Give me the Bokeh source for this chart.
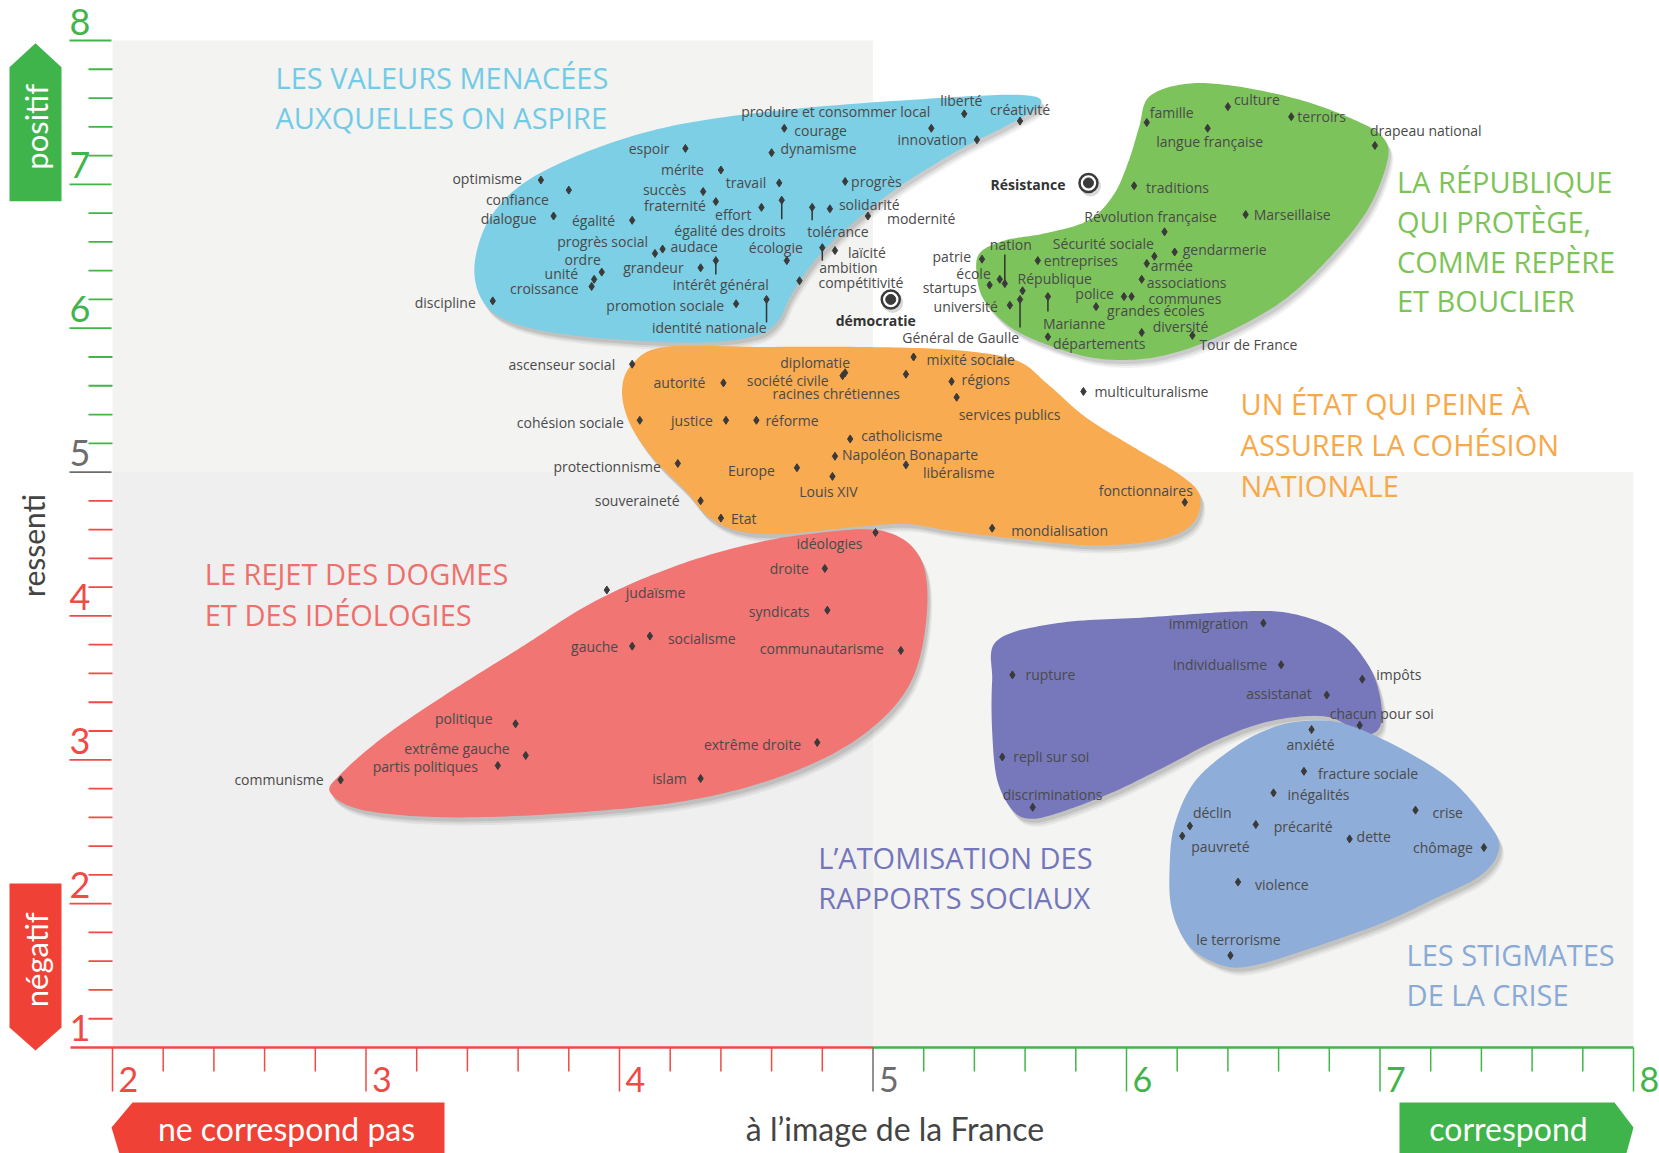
import numpy as np
from bokeh.plotting import figure
from bokeh.models import Range1d, ColumnDataSource
from bokeh.core.properties import value
from bokeh.embed import file_html
from bokeh.resources import INLINE

# ------------------------------------------------------------------ DATA
blue_names = ["optimisme", "confiance", "dialogue", "égalité", "espoir", "mérite", "succès",
              "fraternité", "travail", "effort", "égalité des droits", "progrès", "solidarité",
              "tolérance", "modernité", "produire et consommer local", "courage", "dynamisme",
              "liberté", "créativité", "innovation", "progrès social", "audace", "ordre", "unité",
              "croissance", "grandeur", "intérêt général", "écologie", "laïcité", "ambition",
              "compétitivité", "discipline", "promotion sociale", "identité nationale"]
blue_x = [3.69, 3.80, 3.74, 4.05, 4.26, 4.40, 4.33, 4.38, 4.63, 4.56, 4.64, 4.89, 4.83, 4.76, 4.98,
          5.23, 4.65, 4.60, 5.36, 5.58, 5.41, 4.14, 4.17, 3.93, 3.90, 3.89, 4.32, 4.38, 4.66, 4.85,
          4.80, 4.71, 3.50, 4.46, 4.58]
blue_y = [7.03, 6.96, 6.78, 6.75, 7.25, 7.10, 6.95, 6.88, 7.01, 6.84, 6.89, 7.02, 6.83, 6.84, 6.78,
          7.39, 7.39, 7.22, 7.49, 7.44, 7.31, 6.52, 6.55, 6.39, 6.34, 6.29, 6.42, 6.47, 6.47, 6.54,
          6.56, 6.33, 6.19, 6.17, 6.20]

key_names = ["démocratie", "Résistance"]
key_x = [5.07, 5.85]
key_y = [6.20, 7.01]

green_names = ["famille", "culture", "terroirs", "langue française", "drapeau national", "traditions",
               "Révolution française", "Marseillaise", "Sécurité sociale", "gendarmerie", "nation",
               "patrie", "entreprises", "armée", "école", "République", "startups", "associations",
               "police", "communes", "université", "Général de Gaulle", "Marianne", "grandes écoles",
               "diversité", "départements", "Tour de France"]
green_x = [6.08, 6.40, 6.65, 6.32, 6.98, 6.03, 6.15, 6.47, 6.11, 6.19, 5.52, 5.43, 5.65, 6.08, 5.50,
           5.59, 5.46, 6.06, 5.99, 6.02, 5.54, 5.58, 5.69, 5.88, 6.06, 5.69, 6.26]
green_y = [7.43, 7.54, 7.47, 7.39, 7.27, 6.99, 6.67, 6.79, 6.50, 6.53, 6.31, 6.48, 6.47, 6.45, 6.34,
           6.26, 6.30, 6.34, 6.22, 6.22, 6.16, 6.20, 6.22, 6.15, 5.97, 5.94, 5.95]

orange_names = ["ascenseur social", "diplomatie", "société civile", "mixité sociale", "autorité",
                "racines chrétiennes", "régions", "services publics", "multiculturalisme",
                "cohésion sociale", "justice", "réforme", "catholicisme", "Napoléon Bonaparte",
                "protectionnisme", "Europe", "libéralisme", "Louis XIV", "fonctionnaires",
                "souveraineté", "Etat", "mondialisation"]
orange_x = [4.05, 4.89, 4.88, 5.16, 4.41, 5.13, 5.31, 5.33, 5.83, 4.08, 4.42, 4.54, 4.91, 4.85, 4.23,
            4.70, 5.13, 4.84, 6.23, 4.32, 4.40, 5.47]
orange_y = [5.75, 5.69, 5.67, 5.80, 5.62, 5.68, 5.63, 5.52, 5.56, 5.36, 5.36, 5.36, 5.23, 5.11, 5.06,
            5.03, 5.05, 4.97, 4.79, 4.80, 4.68, 4.61]

red_names = ["idéologies", "droite", "judaïsme", "syndicats", "gauche", "socialisme",
             "communautarisme", "politique", "extrême gauche", "partis politiques", "communisme",
             "extrême droite", "islam"]
red_x = [5.01, 4.81, 3.95, 4.82, 4.05, 4.12, 5.11, 3.59, 3.63, 3.52, 2.90, 4.78, 4.32]
red_y = [4.58, 4.33, 4.18, 4.04, 3.79, 3.86, 3.76, 3.25, 3.03, 2.96, 2.86, 3.12, 2.87]

purple_names = ["immigration", "rupture", "individualisme", "impôts", "assistanat",
                "chacun pour soi", "repli sur soi", "discriminations"]
purple_x = [6.54, 5.55, 6.61, 6.93, 6.79, 6.92, 5.51, 5.63]
purple_y = [3.95, 3.59, 3.66, 3.56, 3.45, 3.24, 3.02, 2.67]

crisis_names = ["anxiété", "fracture sociale", "inégalités", "déclin", "pauvreté", "précarité",
                "dette", "crise", "chômage", "violence", "le terrorisme"]
crisis_x = [6.73, 6.70, 6.58, 6.25, 6.22, 6.51, 6.88, 7.14, 7.41, 6.44, 6.41]
crisis_y = [3.21, 2.92, 2.77, 2.54, 2.47, 2.55, 2.45, 2.65, 2.39, 2.15, 1.64]

# region outlines (data units)
blue_shape_x = [3.43, 3.51, 3.71, 4.12, 4.61, 5.26, 5.60, 5.66, 5.54, 5.34, 5.10, 4.90, 4.77, 4.68,
                4.62, 4.52, 4.28, 3.87, 3.59, 3.46]
blue_shape_y = [6.47, 6.82, 7.10, 7.37, 7.51, 7.60, 7.62, 7.55, 7.42, 7.24, 6.98, 6.70, 6.47, 6.24,
                6.04, 5.94, 5.90, 5.94, 6.03, 6.19]
green_shape_x = [6.24, 6.09, 6.05, 6.01, 5.95, 5.85, 5.68, 5.52, 5.42, 5.41, 5.44, 5.54, 5.68, 5.85,
                 6.01, 6.17, 6.36, 6.60, 6.79, 6.95, 7.03, 7.01, 6.91, 6.70, 6.44]
green_shape_y = [7.70, 7.61, 7.40, 7.17, 6.93, 6.75, 6.66, 6.61, 6.52, 6.36, 6.19, 6.01, 5.89, 5.80,
                 5.78, 5.82, 5.94, 6.17, 6.47, 6.82, 7.17, 7.33, 7.44, 7.58, 7.68]
orange_shape_x = [4.18, 4.05, 4.01, 4.04, 4.13, 4.26, 4.35, 4.47, 4.65, 4.94, 5.13, 5.31, 5.60, 5.88,
                  6.13, 6.26, 6.29, 6.22, 6.05, 5.84, 5.69, 5.56, 5.31, 4.94, 4.56]
orange_shape_y = [5.87, 5.75, 5.57, 5.34, 5.10, 4.87, 4.69, 4.59, 4.57, 4.62, 4.64, 4.59, 4.53, 4.49,
                  4.53, 4.64, 4.83, 4.97, 5.15, 5.38, 5.61, 5.78, 5.85, 5.87, 5.87]
red_shape_x = [4.75, 5.04, 5.19, 5.21, 5.14, 4.95, 4.66, 4.28, 3.80, 3.32, 2.99, 2.86, 2.90, 3.07,
               3.32, 3.61, 3.89, 4.18, 4.47]
red_shape_y = [4.57, 4.59, 4.39, 3.97, 3.51, 3.16, 2.90, 2.72, 2.63, 2.60, 2.65, 2.77, 2.90, 3.16,
               3.46, 3.78, 4.09, 4.32, 4.48]
purple_shape_x = [5.49, 5.73, 6.08, 6.43, 6.64, 6.83, 6.95, 7.00, 7.00, 6.93, 6.79, 6.57, 6.36, 6.15,
                  5.94, 5.73, 5.62, 5.55, 5.49, 5.47, 5.47]
purple_shape_y = [3.83, 3.95, 3.99, 4.03, 4.02, 3.90, 3.67, 3.44, 3.23, 3.18, 3.30, 3.27, 3.14, 2.95,
                  2.77, 2.63, 2.59, 2.65, 2.86, 3.20, 3.55]
crisis_shape_x = [6.71, 6.86, 7.07, 7.28, 7.42, 7.47, 7.40, 7.21, 7.00, 6.71, 6.50, 6.38, 6.25, 6.18,
                  6.17, 6.19, 6.27, 6.42, 6.57]
crisis_shape_y = [3.27, 3.25, 3.09, 2.86, 2.58, 2.39, 2.20, 2.03, 1.86, 1.68, 1.57, 1.57, 1.70, 1.95,
                  2.25, 2.55, 2.85, 3.08, 3.22]

x_ticks = [2, 3, 4, 5, 6, 7, 8]
y_ticks = [1, 2, 3, 4, 5, 6, 7, 8]

# ------------------------------------------------------------------ LAYOUT / STYLE
PX = 253.5      # px per x unit
PY = 143.857    # px per y unit
W, H = 1659, 1153
X0 = 2 - 112 / PX
Y1 = 8 + 40 / PY

LAYOUT = {
    # blue
    "optimisme": (-19, -2, "r"), "confiance": (-20, 9, "r"), "dialogue": (-17, 2, "r"),
    "égalité": (-17, 0, "r"), "espoir": (-16, 0, "r"), "mérite": (-17, 0, "r"),
    "succès": (-17, -2, "r"), "fraternité": (-10, 4, "r"), "travail": (-13, 0, "r"),
    "effort": (-10, 7, "r"), "égalité des droits": (4, 30, "r"), "progrès": (6, 0, "l"),
    "solidarité": (9, -4, "l"), "tolérance": (-5, 24, "l"), "modernité": (19, 2, "l"),
    "produire et consommer local": (-1, -17, "r"), "courage": (10, 2, "l"),
    "dynamisme": (9, -4, "l"), "liberté": (-3, -13, "c"), "créativité": (0, -12, "c"),
    "innovation": (-10, 0, "r"), "progrès social": (-7, -12, "r"), "audace": (8, -3, "l"),
    "ordre": (-1, -13, "r"), "unité": (-16, -6, "r"), "croissance": (-13, 2, "r"),
    "grandeur": (-17, 0, "r"), "intérêt général": (5, 24, "c"), "écologie": (-11, -13, "c"),
    "laïcité": (13, 2, "l"), "ambition": (-3, 20, "l"), "compétitivité": (19, 2, "l"),
    "discipline": (-17, 2, "r"), "promotion sociale": (-12, 2, "r"),
    "identité nationale": (0, 28, "r"),
    # key
    "démocratie": (-15, 21, "c"), "Résistance": (-23, 2, "r"),
    # green
    "famille": (3, -10, "l"), "culture": (6, -7, "l"), "terroirs": (6, 0, "l"),
    "langue française": (2, 13, "c"), "drapeau national": (-5, -15, "l"),
    "traditions": (12, 2, "l"), "Révolution française": (-14, -15, "c"),
    "Marseillaise": (8, 0, "l"), "Sécurité sociale": (-51, -13, "c"),
    "gendarmerie": (8, -2, "l"), "nation": (6, -39, "c"), "patrie": (-11, -3, "r"),
    "entreprises": (6, 0, "l"), "armée": (4, 2, "l"), "école": (-9, -6, "r"),
    "République": (-5, -12, "l"), "startups": (-13, 2, "r"), "associations": (5, 3, "l"),
    "police": (-10, -3, "r"), "communes": (17, 2, "l"), "université": (-12, 1, "r"),
    "Général de Gaulle": (-1, 38, "r"), "Marianne": (-5, 27, "l"),
    "grandes écoles": (11, 4, "l"), "diversité": (11, -6, "l"), "départements": (5, 7, "l"),
    "Tour de France": (7, 9, "l"),
    # orange
    "ascenseur social": (-17, 0, "r"), "diplomatie": (-30, -10, "c"),
    "société civile": (-14, 5, "r"), "mixité sociale": (13, 3, "l"), "autorité": (-18, 0, "r"),
    "racines chrétiennes": (-6, 19, "r"), "régions": (10, -2, "l"),
    "services publics": (2, 17, "l"), "multiculturalisme": (11, 0, "l"),
    "cohésion sociale": (-16, 2, "r"), "justice": (-13, 0, "r"), "réforme": (9, 0, "l"),
    "catholicisme": (11, -3, "l"), "Napoléon Bonaparte": (7, -2, "l"),
    "protectionnisme": (-17, 3, "r"), "Europe": (-22, 3, "r"), "libéralisme": (17, 8, "l"),
    "Louis XIV": (-4, 15, "c"), "fonctionnaires": (8, -12, "r"),
    "souveraineté": (-21, 0, "r"), "Etat": (10, 0, "l"), "mondialisation": (19, 2, "l"),
    # red
    "idéologies": (-13, 11, "r"), "droite": (-16, 0, "r"), "judaïsme": (19, 2, "l"),
    "syndicats": (-18, 1, "r"), "gauche": (-14, 0, "r"), "socialisme": (18, 2, "l"),
    "communautarisme": (-17, -2, "r"), "politique": (-23, -5, "r"),
    "extrême gauche": (-16, -7, "r"), "partis politiques": (-20, 1, "r"),
    "communisme": (-17, 0, "r"), "extrême droite": (-16, 2, "r"), "islam": (-14, 0, "r"),
    # purple
    "immigration": (-15, 0, "r"), "rupture": (13, 0, "l"), "individualisme": (-14, 0, "r"),
    "impôts": (14, -5, "l"), "assistanat": (-15, -2, "r"), "chacun pour soi": (-30, -12, "l"),
    "repli sur soi": (11, 0, "l"), "discriminations": (-30, -13, "l"),
    # crisis
    "anxiété": (-1, 15, "c"), "fracture sociale": (14, 2, "l"), "inégalités": (14, 2, "l"),
    "déclin": (3, -13, "l"), "pauvreté": (9, 10, "l"), "précarité": (18, 2, "l"),
    "dette": (7, -2, "l"), "crise": (17, 2, "l"), "chômage": (-11, 0, "r"),
    "violence": (17, 2, "l"), "le terrorisme": (8, -16, "c"),
}
# vertical leader lines (px, positive = downward from the point)
LEADERS = {"égalité des droits": 19, "tolérance": 13, "intérêt général": 14, "ambition": 13,
           "identité nationale": 23, "Général de Gaulle": 28, "Marianne": 15, "nation": -29}

TITLES = [
    (["LES VALEURS MENACÉES", "AUXQUELLES ON ASPIRE"], "#72cbe6", 2.643, [7.741, 7.462]),
    (["LA RÉPUBLIQUE", "QUI PROTÈGE,", "COMME REPÈRE", "ET BOUCLIER"], "#7dc456", 7.067,
     [7.021, 6.741, 6.462, 6.190]),
    (["UN ÉTAT QUI PEINE À", "ASSURER LA COHÉSION", "NATIONALE"], "#f7a94a", 6.450,
     [5.476, 5.189, 4.909]),
    (["LE REJET DES DOGMES", "ET DES IDÉOLOGIES"], "#ef6f6c", 2.364, [4.292, 4.013]),
    (["L’ATOMISATION DES", "RAPPORTS SOCIAUX"], "#7476ba", 4.784, [2.321, 2.041]),
    (["LES STIGMATES", "DE LA CRISE"], "#8aaad6", 7.105, [1.644, 1.365]),
]

SHAPES = [
    (blue_shape_x, blue_shape_y, "#7ccfe5"),
    (green_shape_x, green_shape_y, "#7dc35b"),
    (orange_shape_x, orange_shape_y, "#f8ab51"),
    (red_shape_x, red_shape_y, "#f07573"),
    (purple_shape_x, purple_shape_y, "#7678bb"),
    (crisis_shape_x, crisis_shape_y, "#8eadd8"),
]

RED = "#ef4a45"
GREEN = "#41b549"
GREY = "#6d6d6d"
TXT = "#4a4a4a"
LABEL_FONT = "Open Sans"


def smooth(xs, ys, n=16):
    P = np.column_stack([xs, ys]).astype(float)
    m = len(P)
    out = []
    for i in range(m):
        p0, p1, p2, p3 = P[(i - 1) % m], P[i], P[(i + 1) % m], P[(i + 2) % m]
        for t in np.linspace(0, 1, n, endpoint=False):
            t2, t3 = t * t, t * t * t
            out.append(0.5 * ((2 * p1) + (-p0 + p2) * t + (2 * p0 - 5 * p1 + 4 * p2 - p3) * t2
                              + (-p0 + 3 * p1 - 3 * p2 + p3) * t3))
    out = np.array(out)
    return out[:, 0], out[:, 1]


p = figure(width=W, height=H, x_range=Range1d(X0, X0 + W / PX), y_range=Range1d(Y1 - H / PY, Y1),
           x_axis_location=None, y_axis_location=None, toolbar_location=None,
           output_backend="svg", min_border=0, title=None)
p.outline_line_color = None
p.background_fill_color = "white"
p.border_fill_color = "white"
p.xgrid.visible = False
p.ygrid.visible = False

# quadrant backgrounds
p.quad(left=[2, 5, 2, 5], right=[5, 8, 5, 8], bottom=[5, 5, 1, 1], top=[8, 8, 5, 5],
       fill_color=["#f3f3f2", "#ffffff", "#efefef", "#f4f4f3"], line_color=None)

# shapes with soft shadows
for sx, sy, col in SHAPES:
    xs, ys = smooth(sx, sy)
    for k, a in [(8, 0.05), (6, 0.07), (4, 0.09)]:
        p.patch(xs + k * 0.6 / PX, ys - k / PY, fill_color="#000000", fill_alpha=a, line_color=None)
    p.patch(xs, ys, fill_color=col, line_color=None)

# titles
for lines, col, tx, tys in TITLES:
    p.text(x=[tx] * len(lines), y=tys, text=lines, text_color=col, text_font=value(LABEL_FONT),
           text_font_size="29px", text_align="left", text_baseline="middle")

# points
all_names = blue_names + green_names + orange_names + red_names + purple_names + crisis_names
all_x = blue_x + green_x + orange_x + red_x + purple_x + crisis_x
all_y = blue_y + green_y + orange_y + red_y + purple_y + crisis_y

# leaders
lx0, ly0, lx1, ly1 = [], [], [], []
for n, x, y in zip(all_names, all_x, all_y):
    if n in LEADERS:
        lx0.append(x); ly0.append(y); lx1.append(x); ly1.append(y - LEADERS[n] / PY)
p.segment(x0=lx0, y0=ly0, x1=lx1, y1=ly1, line_color="#333333", line_width=1.5)

p.scatter(x=all_x, y=all_y, marker="diamond", size=8, color="#3a3a3a")

# key bull's-eyes
p.scatter(x=[k + 2 / PX for k in key_x], y=[k - 3 / PY for k in key_y], marker="circle", size=21,
          fill_color="#000000", fill_alpha=0.15, line_color=None)
p.scatter(x=key_x, y=key_y, marker="circle", size=18, fill_color="white", line_color="#3a3a3a",
          line_width=2.5)
p.scatter(x=key_x, y=key_y, marker="circle", size=10, color="#3a3a3a")


def label_sources(names, xs, ys):
    groups = {"l": dict(x=[], y=[], t=[]), "r": dict(x=[], y=[], t=[]), "c": dict(x=[], y=[], t=[])}
    for n, x, y in zip(names, xs, ys):
        dx, dy, al = LAYOUT[n]
        g = groups[al]
        g["x"].append(x + dx / PX)
        g["y"].append(y - dy / PY)
        g["t"].append(n)
    return groups


ALIGN = {"l": "left", "r": "right", "c": "center"}
for al, g in label_sources(all_names, all_x, all_y).items():
    p.text(x="x", y="y", text="t", source=ColumnDataSource(g), text_color=TXT,
           text_font=value(LABEL_FONT), text_font_size="14px", text_align=ALIGN[al],
           text_baseline="middle")
for al, g in label_sources(key_names, key_x, key_y).items():
    if g["t"]:
        p.text(x="x", y="y", text="t", source=ColumnDataSource(g), text_color="#333333",
               text_font=value(LABEL_FONT), text_font_size="14px", text_font_style="bold",
               text_align=ALIGN[al], text_baseline="middle")


def tcol(v):
    return GREEN if v > 5 else (RED if v < 5 else GREY)


# ---------------- y axis ticks
ymin_t = [round(v, 1) for v in np.arange(1.2, 8.0, 0.2) if abs(v - round(v)) > 1e-6]
p.segment(x0=[2 - 24 / PX] * len(ymin_t), y0=ymin_t, x1=[2.0] * len(ymin_t), y1=ymin_t,
          line_color=[tcol(v) for v in ymin_t], line_width=1.8)
ymaj = [v for v in y_ticks if v > 1]
p.segment(x0=[2 - 43 / PX] * len(ymaj), y0=ymaj, x1=[2 - 1 / PX] * len(ymaj), y1=ymaj,
          line_color=[tcol(v) for v in ymaj], line_width=1.8)
p.text(x=[2 - 43 / PX] * len(y_ticks), y=[v + 19 / PY for v in y_ticks], text=[str(v) for v in y_ticks],
       text_color=[tcol(v) for v in y_ticks], text_font=value("Lato"), text_font_size="36px",
       text_align="left", text_baseline="alphabetic")

# ---------------- x axis
p.segment(x0=[2 - 42 / PX, 5], y0=[1, 1], x1=[5, 8], y1=[1, 1], line_color=[RED, GREEN], line_width=2.5)
xmin_t = [round(v, 1) for v in np.arange(2.2, 8.0, 0.2) if abs(v - round(v)) > 1e-6]
p.segment(x0=xmin_t, y0=[1] * len(xmin_t), x1=xmin_t, y1=[1 - 24 / PY] * len(xmin_t),
          line_color=[tcol(v) for v in xmin_t], line_width=1.5)
p.segment(x0=x_ticks, y0=[1] * len(x_ticks), x1=x_ticks, y1=[1 - 44 / PY] * len(x_ticks),
          line_color=[tcol(v) for v in x_ticks], line_width=1.5)
p.text(x=[v + 6 / PX for v in x_ticks], y=[1 - 32 / PY] * len(x_ticks), text=[str(v) for v in x_ticks],
       text_color=[tcol(v) for v in x_ticks], text_font=value("Lato"), text_font_size="34px",
       text_align="left", text_baseline="alphabetic")

# ---------------- side arrows
ax0, ax1, axm = 2 - 103 / PX, 2 - 51 / PX, 2 - 77 / PX
p.patch([ax0, ax0, axm, ax1, ax1], [6.883, 7.814, 7.981, 7.814, 6.883], fill_color="#3fb44b",
        line_color=None)
p.text(x=[axm], y=[7.40], text=["positif"], angle=np.pi / 2, text_color="white",
       text_font=value("Lato"), text_font_size="31px", text_align="center", text_baseline="middle")
p.patch([ax0, ax1, ax1, axm, ax0], [2.140, 2.140, 1.139, 0.979, 1.139], fill_color="#ef4136",
        line_color=None)
p.text(x=[axm], y=[1.61], text=["négatif"], angle=np.pi / 2, text_color="white",
       text_font=value("Lato"), text_font_size="31px", text_align="center", text_baseline="middle")
p.text(x=[2 - 80 / PX], y=[4.49], text=["ressenti"], angle=np.pi / 2, text_color="#444444",
       text_font=value("Lato"), text_font_size="30px", text_align="center", text_baseline="middle")

# ---------------- bottom arrows
bt, bb, bm = 8 - 1062 / PY, 8 - 1113 / PY, 8 - 1087 / PY
p.patch([2 - 1 / PX, 2 + 20 / PX, 2 + 332 / PX, 2 + 332 / PX, 2 + 20 / PX], [bm, bt, bt, bb - 0.3, bb - 0.3],
        fill_color="#ef4136", line_color=None)
p.text(x=[2 + 174 / PX], y=[bm - 0.005], text=["ne correspond pas"], text_color="white",
       text_font=value("Lato"), text_font_size="32px", text_align="center", text_baseline="middle")
p.patch([8 - 234 / PX, 8 - 19 / PX, 8.0, 8 - 19 / PX, 8 - 234 / PX], [bt, bt, bm, bb - 0.3, bb - 0.3],
        fill_color="#3fb44b", line_color=None)
p.text(x=[8 - 125 / PX], y=[bm - 0.005], text=["correspond"], text_color="white",
       text_font=value("Lato"), text_font_size="32px", text_align="center", text_baseline="middle")
p.text(x=[5 + 22 / PX], y=[bm - 0.005], text=["à l’image de la France"], text_color="#444444",
       text_font=value("Lato"), text_font_size="32px", text_align="center", text_baseline="middle")

open("out.html", "w").write(file_html(p, INLINE))
